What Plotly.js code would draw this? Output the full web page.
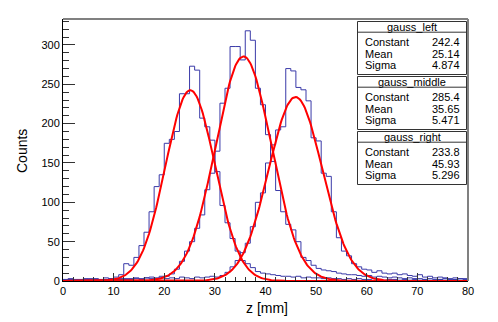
<!DOCTYPE html>
<html>
<head>
<meta charset="utf-8">
<script src="https://cdn.plot.ly/plotly-3.0.1.min.js"></script>
<style>
  html, body { margin: 0; padding: 0; background: #fff; }
  #plot { width: 498px; height: 322px; }
</style>
</head>
<body>
<div id="plot"></div>
<script>
/* ---- data: three z histograms (1 mm bins, 0..80) and their gauss fits ---- */

var binEdges = [];
for (var e = 0; e <= 80; e++) binEdges.push(e);

var countsLeft = [
  2, 3, 2, 1, 3, 2, 3, 2, 4, 3,
  5, 8, 22, 20, 30, 45, 62, 88, 120, 135,
  175, 180, 190, 238, 238, 273, 268, 207, 196, 179,
  139, 96, 74, 54, 38, 26, 22, 17, 12, 10,
  9, 8, 7, 6, 6, 5, 6, 4, 5, 4,
  4, 3, 4, 3, 3, 2, 3, 2, 3, 2,
  2, 3, 2, 1, 2, 2, 1, 2, 1, 2,
  1, 2, 1, 1, 2, 1, 1, 2, 1, 1
];

var countsMiddle = [
  1, 2, 1, 2, 1, 3, 2, 1, 2, 3,
  2, 3, 2, 3, 4, 3, 4, 5, 4, 6,
  6, 9, 15, 25, 38, 50, 67, 84, 116, 137,
  165, 226, 245, 298, 298, 281, 318, 306, 245, 224,
  186, 152, 115, 88, 72, 65, 50, 30, 26, 20,
  16, 14, 13, 12, 10, 9, 8, 8, 7, 6,
  7, 5, 6, 5, 4, 5, 4, 3, 4, 3,
  3, 2, 3, 2, 2, 3, 2, 2, 3, 2
];

var countsRight = [
  1, 2, 1, 1, 2, 1, 2, 1, 2, 1,
  2, 2, 3, 2, 3, 2, 4, 3, 3, 4,
  3, 4, 3, 5, 4, 3, 5, 4, 5, 6,
  5, 7, 11, 18, 26, 36, 48, 69, 100, 112,
  150, 173, 192, 196, 270, 267, 246, 243, 229, 182,
  178, 137, 133, 88, 55, 38, 32, 22, 18, 15,
  14, 11, 13, 10, 9, 10, 8, 9, 7, 6,
  8, 5, 6, 4, 5, 4, 3, 4, 3, 3
];

var fitNames = ['gauss_left', 'gauss_middle', 'gauss_right'];
var fitConst = [242.4, 285.4, 233.8];
var fitMean  = [25.14, 35.65, 45.93];
var fitSigma = [4.874, 5.471, 5.296];

/* ---- helpers ---- */

var FONT = 'Liberation Sans, Arial, Helvetica, sans-serif';
var PX = { l: 63, r: 468, t: 19, b: 281 };

function px2x(x) { return (x - PX.l) / (PX.r - PX.l); }
function px2y(y) { return (PX.b - y) / (PX.b - PX.t); }

function stepTrace(counts) {
  var ys = counts.slice();
  ys.push(counts[counts.length - 1]);
  return {
    x: binEdges, y: ys,
    type: 'scatter', mode: 'lines',
    line: { shape: 'hv', color: '#3a3aa8', width: 1 },
    hoverinfo: 'skip'
  };
}

function fitTrace(k) {
  var xs = [], ys = [];
  for (var i = 0; i <= 400; i++) {
    var z = i * 0.2;
    var d = (z - fitMean[k]) / fitSigma[k];
    xs.push(z);
    ys.push(fitConst[k] * Math.exp(-0.5 * d * d));
  }
  return {
    x: xs, y: ys,
    type: 'scatter', mode: 'lines',
    line: { color: '#ff0000', width: 2 },
    hoverinfo: 'skip'
  };
}

/* ---- stats boxes ---- */

var shapes = [];
var annotations = [];
var boxTops = [21.5, 76.5, 131.5];
var boxL = 357.5, boxR = 466.5, boxH = 53;

fitNames.forEach(function(name, k) {
  var T = boxTops[k];
  shapes.push({
    type: 'rect', xref: 'paper', yref: 'paper',
    x0: px2x(boxL), x1: px2x(boxR), y0: px2y(T + boxH), y1: px2y(T),
    line: { color: '#333', width: 1 }, fillcolor: '#fff', layer: 'above'
  });
  shapes.push({
    type: 'line', xref: 'paper', yref: 'paper',
    x0: px2x(boxL), x1: px2x(boxR), y0: px2y(T + 10.7), y1: px2y(T + 10.7),
    line: { color: '#333', width: 1 }, layer: 'above'
  });
  annotations.push({
    xref: 'paper', yref: 'paper', x: px2x((boxL + boxR) / 2), y: px2y(T + 5.6),
    text: name, showarrow: false, xanchor: 'center', yanchor: 'middle',
    font: { family: FONT, size: 11, color: '#000' }
  });
  var rows = [['Constant', fitConst[k].toFixed(1)],
              ['Mean', fitMean[k].toFixed(2)],
              ['Sigma', fitSigma[k].toFixed(3)]];
  rows.forEach(function(r, j) {
    var yc = T + 20.5 + j * 11.7;
    annotations.push({
      xref: 'paper', yref: 'paper', x: px2x(boxL + 5), y: px2y(yc),
      text: r[0], showarrow: false, xanchor: 'left', yanchor: 'middle',
      font: { family: FONT, size: 11, color: '#000' }
    });
    annotations.push({
      xref: 'paper', yref: 'paper', x: px2x(boxR - 5), y: px2y(yc),
      text: r[1], showarrow: false, xanchor: 'right', yanchor: 'middle',
      font: { family: FONT, size: 11, color: '#000' }
    });
  });
});

/* frame top / right */
shapes.push({ type: 'line', xref: 'paper', yref: 'paper', x0: 0, x1: 1, y0: 1, y1: 1,
              line: { color: '#808080', width: 2 } });
shapes.push({ type: 'line', xref: 'paper', yref: 'paper', x0: 1, x1: 1, y0: 0, y1: 1,
              line: { color: '#808080', width: 2 } });

/* axis titles */
annotations.push({
  xref: 'paper', yref: 'paper', x: px2x(22), y: px2y(151),
  text: 'Counts', textangle: -90, showarrow: false,
  xanchor: 'center', yanchor: 'middle',
  font: { family: FONT, size: 14, color: '#000' }
});
annotations.push({
  xref: 'paper', yref: 'paper', x: px2x(267), y: px2y(308),
  text: 'z [mm]', showarrow: false,
  xanchor: 'center', yanchor: 'middle',
  font: { family: FONT, size: 14, color: '#000' }
});

var traces = [
  stepTrace(countsLeft), stepTrace(countsMiddle), stepTrace(countsRight),
  fitTrace(0), fitTrace(1), fitTrace(2)
];

Plotly.newPlot('plot', traces, {
  width: 498, height: 322,
  margin: { l: PX.l, r: 498 - PX.r, t: PX.t, b: 322 - PX.b, pad: 0 },
  paper_bgcolor: '#fff', plot_bgcolor: '#fff',
  showlegend: false,
  font: { family: FONT, size: 11, color: '#000' },
  xaxis: {
    range: [0, 80], dtick: 10, tick0: 0,
    showgrid: false, zeroline: false,
    showline: true, linecolor: '#000', linewidth: 1,
    ticks: 'inside', ticklen: 8, tickcolor: '#333', tickwidth: 1,
    minor: { dtick: 2, ticks: 'inside', ticklen: 4, tickcolor: '#333', showgrid: false },
    tickfont: { family: FONT, size: 11, color: '#000' }
  },
  yaxis: {
    range: [0, 333], dtick: 50, tick0: 0,
    showgrid: false, zeroline: false,
    showline: true, linecolor: '#000', linewidth: 1,
    ticks: 'inside', ticklen: 12, tickcolor: '#333', tickwidth: 1,
    minor: { dtick: 10, ticks: 'inside', ticklen: 6, tickcolor: '#333', showgrid: false },
    tickfont: { family: FONT, size: 11, color: '#000' }
  },
  shapes: shapes,
  annotations: annotations
}, { staticPlot: true });
</script>
</body>
</html>
